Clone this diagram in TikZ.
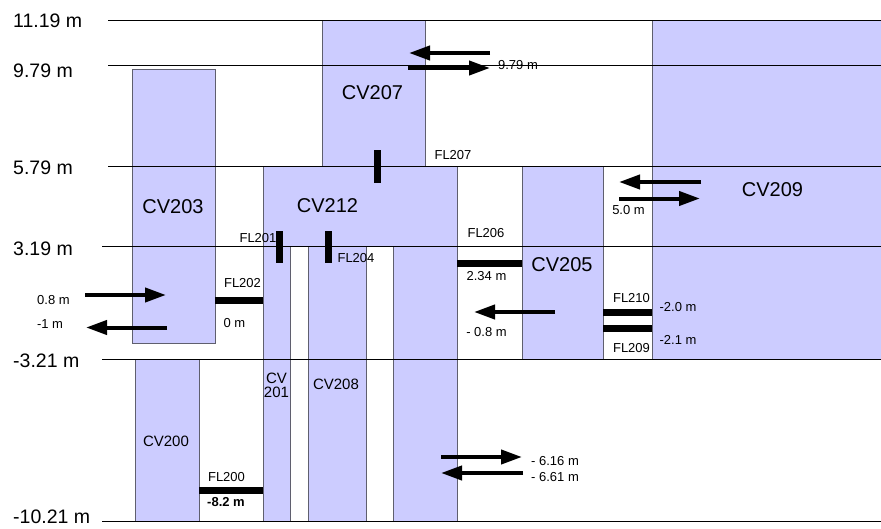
\documentclass[tikz,border=0pt]{standalone}
\usepackage{fontspec}
\setmainfont{Liberation Sans}
\usetikzlibrary{arrows.meta,positioning}
\definecolor{VolFill}{RGB}{204, 204, 255}
\definecolor{VolEdge}{RGB}{95, 95, 110}

\tikzset{
  cvbox/.style={draw=VolEdge, fill=VolFill, line width=1pt, inner sep=0pt, outer sep=0pt, anchor=north west},
  flbar/.style={line width=7pt},
  elev/.style={-{Triangle[length=21pt,width=14pt]}, line width=4pt},
  small/.style={font=\fontsize{13}{14}\selectfont, inner sep=0pt},
  cvname/.style={font=\fontsize{20}{22}\selectfont, inner sep=0pt},
  cvsmall/.style={font=\fontsize{15}{17}\selectfont, inner sep=0pt, align=center},
  level/.style={font=\fontsize{19.5}{21}\selectfont, anchor=west, inner sep=0pt}
}

\begin{document}
\begin{tikzpicture}[x=1pt, y=-1pt]
    \useasboundingbox (0,0) rectangle (881,528);

    % control volumes
    \node[cvbox, minimum width=103pt, minimum height=146pt] (cv207) at (322,20) {};
    \node[cvbox, minimum width=83pt, minimum height=274pt] (cv203) at (132,69) {};
    \node[cvbox, minimum width=229pt, minimum height=339pt] (cv209) at (652,20) {};
    \node[cvbox, minimum width=194pt, minimum height=80pt] (cv212) at (263,166) {};
    \node[cvbox, minimum width=27pt, minimum height=275pt] (cv201) at (263,246) {};
    \node[cvbox, minimum width=58pt, minimum height=275pt] (cv208) at (308,246) {};
    \node[cvbox, minimum width=64pt, minimum height=275pt] (cv212col) at (393,246) {};
    \node[cvbox, minimum width=81pt, minimum height=193pt] (cv205) at (522,166) {};
    \node[cvbox, minimum width=64pt, minimum height=162pt] (cv200) at (135,359) {};

    % elevations
    \foreach \y/\x in {20/108, 65/108, 166/108, 246/102, 359/102, 521/102} {
      \draw[line width=0.9pt] (\x,\y) -- (881,\y);
    }
    \foreach \ly/\lev in {21/11.19, 71/9.79, 167.5/5.79, 248.5/3.19, 360.5/-3.21, 517/-10.21} {
      \node[level] (lev\ly) at (13,\ly) {\lev\ m};
    }

    % volume names
    \node[cvname] (cv207lab) at (372.5,93) {CV207};
    \node[cvname] (cv203lab) at (173,206.5) {CV203};
    \node[cvname] (cv212lab) at (327.5,205.5) {CV212};
    \node[cvname] (cv209lab) at (772.5,190) {CV209};
    \node[cvname] (cv205lab) at (562,264.5) {CV205};
    \node[cvsmall] (cv201lab) at (276.5,385) {CV\\[-3pt]201};
    \node[cvsmall] (cv208lab) at (336,384.5) {CV208};
    \node[cvsmall] (cv200lab) at (166,441.5) {CV200};

    % flow paths
    \draw[flbar] (377,150) -- (377,183);
    \draw[flbar] (279,231) -- (279,263);
    \draw[flbar] (328,231) -- (328,263);
    \draw[flbar] (cv203.east |- 0,300) -- (cv201.west |- 0,300);
    \draw[flbar] (cv200.east |- 0,490) -- (cv201.west |- 0,490);
    \draw[flbar] (cv212col.east |- 0,263) -- (cv205.west |- 0,263);
    \draw[flbar] (cv205.east |- 0,312) -- (cv209.west |- 0,312);
    \draw[flbar] (cv205.east |- 0,328) -- (cv209.west |- 0,328);

    \node[small] (fl207) at (453,155.5) {FL207};
    \node[small] (fl201) at (258,238) {FL201};
    \node[small] (fl204) at (356,258) {FL204};
    \node[small] (fl202) at (242.5,283) {FL202};
    \node[small] (fl202h) at (234.5,323.5) {0 m};
    \node[small] (fl206) at (486,233.5) {FL206};
    \node[small] (fl206h) at (486.5,276.5) {2.34 m};
    \node[small] (fl200) at (226.5,477.5) {FL200};
    \node[small] (fl200h) at (226,502) {\bfseries -8.2 m};
    \node[small] (fl210) at (631.5,298.5) {FL210};
    \node[small] (fl210h) at (678,307.5) {-2.0 m};
    \node[small] (fl209) at (631.5,348) {FL209};
    \node[small] (fl209h) at (678,339.5) {-2.1 m};

    % in / out elevations
    \draw[elev] (490,53) -- (409,53);
    \draw[elev] (408,68) -- (490,68);
    \node[small] (in207) at (518,65.5) {9.79 m};
    \draw[elev] (701,182) -- (619,182);
    \draw[elev] (619,198.5) -- (700,198.5);
    \node[small] (in209) at (628.5,210.5) {5.0 m};
    \draw[elev] (85,295) -- (166,295);
    \draw[elev] (167,327.5) -- (86,327.5);
    \node[small] (in203a) at (53.5,300) {0.8 m};
    \node[small] (in203b) at (50,324) {-1 m};
    \draw[elev] (555,312) -- (474,312);
    \node[small] (in205) at (486.5,332.5) {- 0.8 m};
    \draw[elev] (441,457) -- (522,457);
    \draw[elev] (523,473) -- (441,473);
    \node[small] (in212a) at (555,461.5) {- 6.16 m};
    \node[small] (in212b) at (555,477.5) {- 6.61 m};
  \end{tikzpicture}
\end{document}
